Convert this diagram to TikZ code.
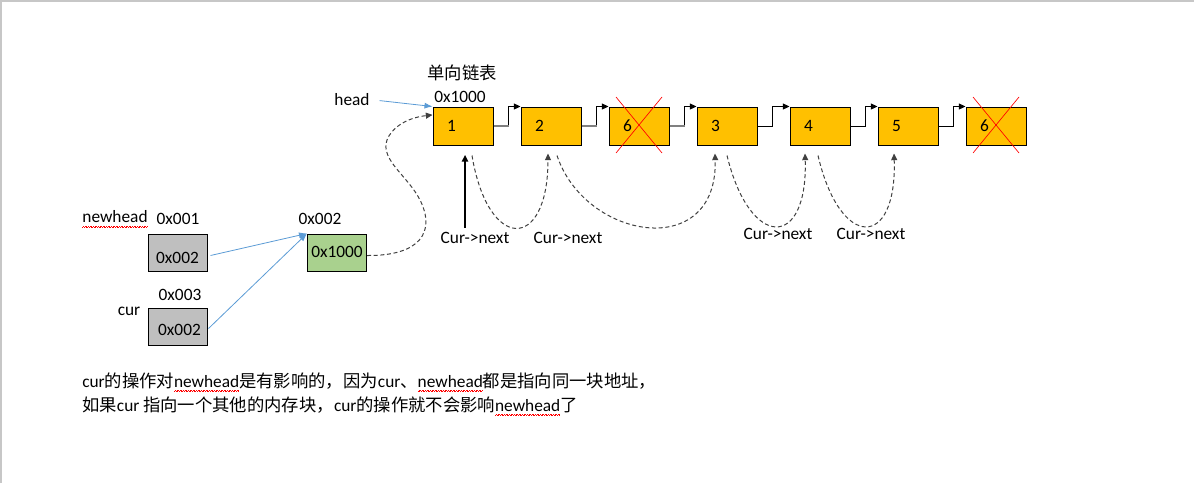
\documentclass[tikz,border=0pt]{standalone}
\usepackage{fontspec}
\setmainfont{Carlito}
\newfontfamily\cjk{Noto Sans CJK SC}
\usetikzlibrary{arrows.meta,positioning}
\definecolor{listyellow}{HTML}{FFC000}
\definecolor{memgray}{HTML}{BFBFBF}
\definecolor{memgreen}{HTML}{A9D18E}
\definecolor{ptrblue}{HTML}{5B9BD5}
\newsavebox\spellbox
\newcommand\spell[1]{\sbox\spellbox{#1}\rlap{\textcolor{red}{\hbox to \wd\spellbox{\xleaders\hbox{\rule[-3.3pt]{0.6pt}{0.4pt}\rule[-2.8pt]{0.6pt}{0.4pt}}\hfill}}}\usebox\spellbox}

\begin{document}
\begin{tikzpicture}[x=0.75pt,y=-0.75pt,
    every node/.style={font=\fontsize{13pt}{18pt}\selectfont},
    listbox/.style={draw,fill=listyellow,line width=0.75pt,minimum width=45pt,minimum height=28.5pt,
        text width=24pt,inner xsep=10.5pt,inner ysep=0pt,align=left},
    membox/.style={draw,line width=0.75pt,minimum width=44.25pt,minimum height=27.75pt,inner sep=0pt},
    link/.style={line width=0.75pt,-{Triangle[length=5pt,width=4.5pt]}},
    cross/.style={red,line width=0.5pt},
    ptr/.style={ptrblue,line width=0.6pt,-{Latex[length=6pt,width=4.5pt]}},
    flow/.style={black!75,line width=0.75pt,dash pattern=on 3pt off 2pt,-{Triangle[length=5pt,width=4.5pt]}},
    cursor/.style={line width=1.5pt,-{Triangle[length=5pt,width=4.5pt]}}]
\useasboundingbox (0,0) rectangle (1194,483);
\draw[black!22,line width=1.5pt] (1,483) -- (1,1) -- (1194,1);

% the list
\foreach \x/\t/\n in {463/1/1,551/2/2,639/6/3,727/3/4,820/4/5,908/5/6,996/6/7}
    \node[listbox] (L\n) at (\x,126) {\t};
\foreach \a/\b/\c/\w in {1/2/gray/1.5,2/3/gray/1.5,3/4/gray/1.5,4/5/black/0.75,5/6/black/0.75,6/7/black/0.75}
{
    \draw[link] (L\a.east) -- ++(15,0) coordinate (k\a) |- (L\b.north west);
    \draw[draw=\c,line width=\w pt] (L\a.east) -- (k\a);
}
\foreach \n in {3,7}
{
    \draw[cross] (L\n.center) ++(-23,-29) -- ++(46,56);
    \draw[cross] (L\n.center) ++(23,-29) -- ++(-46,56);
}
\node (title) at (462,73) {\cjk 单向链表};
\node (addr) at (460,97) {0x1000};
\node (head) at (352,100) {head};
\draw[ptr,shorten <=4pt] (head.east) -- (L1.north west);

% pointers
\node (nh) at (115,219) {\spell{newhead}};
\node (nhaddr) at (178,219) {0x001};
\node[membox,fill=memgray] (G1) at (177.5,252.5) {};
\node (g1val) at ([shift={(0,5)}]G1.center) {0x002};
\node (curaddr) at (180,295) {0x003};
\node (cur) at (129,311) {cur};
\node[membox,fill=memgray] (G2) at (177.5,326.5) {};
\node (g2val) at ([shift={(2,3)}]G2.center) {0x002};
\node (graddr) at (320,219) {0x002};
\node[membox,fill=memgreen] (Gr) at (337,252.5) {};
\node[anchor=west,inner sep=0pt] (grval) at ([shift={(4,-1)}]Gr.west) {0x1000};
\draw[ptr] ([shift={(3,3)}]G1.east) -- (Gr.north west);
\draw[ptr] ([shift={(1,2)}]G2.east) -- (Gr.north west);
\draw[flow] ([shift={(0,3)}]Gr.east) .. controls (420,256) and (436,232) .. (420,200)
    .. controls (408,176) and (380,160) .. (387,140)
    .. controls (391,129) and (405,118) .. (L1.160);

% cur->next
\node (C1) at (475,238) {Cur->next};
\node (C2) at (568,238) {Cur->next};
\node (C3) at (778,234) {Cur->next};
\node (C4) at (871,234) {Cur->next};
\draw[cursor,shorten >=7pt] ([xshift=1.5pt]L1.south |- C1.north) -- ([xshift=1.5pt]L1.south);
\draw[flow] ([shift={(9,10)}]L1.south) .. controls (488,252) and (548,252) .. ([shift={(-3,8)}]L2.south);
\draw[flow] ([shift={(6,10)}]L2.south) .. controls (585,240) and (718,262) .. ([shift={(-12,8)}]L4.south);
\draw[flow] ([shift={(0,10)}]L4.south) .. controls (750,250) and (808,250) .. ([shift={(-15,8)}]L5.south);
\draw[flow] ([shift={(-2,10)}]L5.south) .. controls (840,250) and (897,250) .. ([shift={(-14,8)}]L6.south);

% note
\node[anchor=west,inner sep=0pt] (noteA) at (82,382)
    {cur{\cjk 的操作对}\spell{newhead}{\cjk 是有影响的，因为}cur{\cjk 、}\spell{newhead}{\cjk 都是指向同一块地址，}};
\node[anchor=west,inner sep=0pt] (noteB) at (82,406)
    {{\cjk 如果}cur {\cjk 指向一个其他的内存块，}cur{\cjk 的操作就不会影响}\spell{newhead}{\cjk 了}};
\end{tikzpicture}
\end{document}
